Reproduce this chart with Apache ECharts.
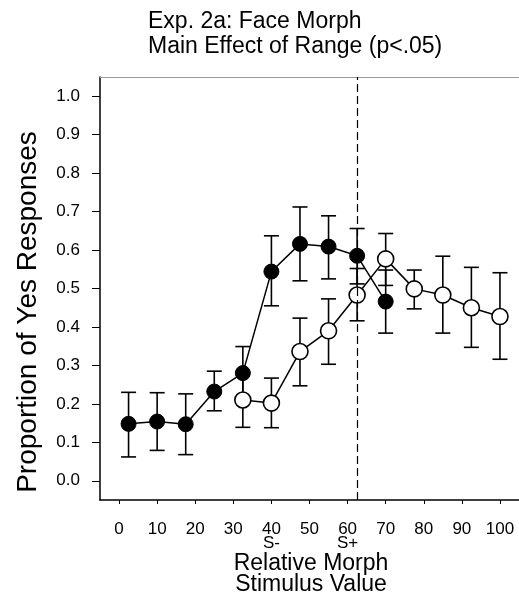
<!DOCTYPE html>
<html>
<head>
<meta charset="utf-8">
<script src="https://cdn.jsdelivr.net/npm/echarts@6/dist/echarts.min.js"></script>
<style>html,body{margin:0;padding:0;background:#fff;}#c{width:519px;height:615px;}</style>
</head>
<body>
<div id="c"></div>
<script>
// ---- data ----
var titleLines = ['Exp. 2a: Face Morph', 'Main Effect of Range (p<.05)'];
var yTitle = 'Proportion of Yes Responses';
var xTitleLines = ['Relative Morph', 'Stimulus Value'];
var xTicks = [0, 10, 20, 30, 40, 50, 60, 70, 80, 90, 100];
var xTickExtra = {40: 'S-', 60: 'S+'};
var yTicks = [0, 0.1, 0.2, 0.3, 0.4, 0.5, 0.6, 0.7, 0.8, 0.9, 1.0];
var dividerX = 62.5;

var blackX    = [2.5, 10, 17.5, 25, 32.5, 40, 47.5, 55, 62.5, 70];
var blackMean = [0.148, 0.154, 0.147, 0.232, 0.280, 0.544, 0.616, 0.609, 0.585, 0.466];
var blackLow  = [0.062, 0.079, 0.068, 0.182, 0.210, 0.455, 0.520, 0.525, 0.512, 0.384];
var blackHigh = [0.230, 0.229, 0.226, 0.285, 0.349, 0.637, 0.712, 0.689, 0.656, 0.548];

var whiteX    = [32.5, 40, 47.5, 55, 62.5, 70, 77.5, 85, 92.5, 100];
var whiteMean = [0.210, 0.202, 0.336, 0.390, 0.483, 0.577, 0.499, 0.483, 0.450, 0.427];
var whiteLow  = [0.139, 0.138, 0.247, 0.303, 0.416, 0.508, 0.447, 0.384, 0.347, 0.316];
var whiteHigh = [0.282, 0.267, 0.423, 0.473, 0.552, 0.643, 0.548, 0.584, 0.555, 0.541];

function pts(xs, ys) { return xs.map(function (x, i) { return [x, ys[i]]; }); }
function bars(xs, lo, hi) { return xs.map(function (x, i) { return [x, lo[i], hi[i]]; }); }

function errRender(params, api) {
  var x = api.value(0);
  var lo = api.coord([x, api.value(1)]);
  var hi = api.coord([x, api.value(2)]);
  var hw = 7.5;
  var st = {stroke: '#000', lineWidth: 1.6, fill: null};
  return {
    type: 'group',
    children: [
      {type: 'line', shape: {x1: lo[0], y1: lo[1], x2: hi[0], y2: hi[1]}, style: st},
      {type: 'line', shape: {x1: hi[0] - hw, y1: hi[1], x2: hi[0] + hw, y2: hi[1]}, style: st},
      {type: 'line', shape: {x1: lo[0] - hw, y1: lo[1], x2: lo[0] + hw, y2: lo[1]}, style: st}
    ]
  };
}

var FONT = 'Liberation Sans, Arial, sans-serif';
var chart = echarts.init(document.getElementById('c'), null, {renderer: 'canvas'});
chart.setOption({
  backgroundColor: '#fff',
  animation: false,
  title: {
    text: titleLines.join('\n'),
    left: 143, top: 4,
    textStyle: {fontFamily: FONT, fontSize: 23, fontWeight: 'normal', color: '#000', lineHeight: 25}
  },
  grid: {left: 100, top: 77, width: 421, height: 423, show: false, containLabel: false},
  xAxis: [{
    type: 'value', min: -5, max: 105,
    splitLine: {show: false},
    axisLine: {show: true, onZero: false, lineStyle: {color: '#000', width: 1.5}},
    axisTick: {show: true, inside: false, length: 4, customValues: xTicks, lineStyle: {color: '#000', width: 1}},
    axisLabel: {
      show: true, margin: 22, customValues: xTicks,
      fontFamily: FONT, fontSize: 17, color: '#000', lineHeight: 14,
      formatter: function (v) { return xTickExtra[v] ? v + '\n' + xTickExtra[v] : String(v); }
    }
  }, {
    type: 'value', position: 'top', min: -5, max: 105,
    splitLine: {show: false},
    axisLine: {show: true, onZero: false, lineStyle: {color: '#999', width: 1}},
    axisTick: {show: false}, axisLabel: {show: false}
  }],
  yAxis: {
    type: 'value', min: -0.05, max: 1.05,
    splitLine: {show: false},
    axisLine: {show: true, onZero: false, lineStyle: {color: '#000', width: 1.5}},
    axisTick: {show: true, inside: false, length: 8, customValues: yTicks, lineStyle: {color: '#000', width: 1}},
    axisLabel: {
      show: true, margin: 20, customValues: yTicks,
      fontFamily: FONT, fontSize: 17, color: '#000',
      formatter: function (v) { return (Math.round(v * 10) / 10).toFixed(1); }
    }
  },
  graphic: [
    {type: 'text', x: 28, y: 312, rotation: Math.PI / 2,
     style: {text: yTitle, font: '28px ' + FONT, fill: '#000', textAlign: 'center', textVerticalAlign: 'middle'}},
    {type: 'text', x: 311, y: 564,
     style: {text: xTitleLines[0], font: '23px ' + FONT, fill: '#000', textAlign: 'center', textVerticalAlign: 'middle'}},
    {type: 'text', x: 311, y: 585,
     style: {text: xTitleLines[1], font: '23px ' + FONT, fill: '#000', textAlign: 'center', textVerticalAlign: 'middle'}}
  ],
  series: [
    {type: 'custom', name: 'blackErr', renderItem: errRender, data: bars(blackX, blackLow, blackHigh), z: 1, silent: true},
    {type: 'custom', name: 'whiteErr', renderItem: errRender, data: bars(whiteX, whiteLow, whiteHigh), z: 1, silent: true},
    {
      type: 'line', name: 'black', data: pts(blackX, blackMean), z: 3,
      symbol: 'circle', symbolSize: 15,
      lineStyle: {color: '#000', width: 1.5},
      itemStyle: {color: '#000', borderColor: '#000', borderWidth: 1},
      markLine: {
        silent: true, symbol: 'none', label: {show: false},
        lineStyle: {color: '#000', type: [8, 4], width: 1.2},
        data: [{xAxis: dividerX}]
      }
    },
    {
      type: 'line', name: 'white', data: pts(whiteX, whiteMean), z: 4,
      symbol: 'circle', symbolSize: 16,
      lineStyle: {color: '#000', width: 1.5},
      itemStyle: {color: '#fff', borderColor: '#000', borderWidth: 1.6}
    }
  ]
});
</script>
</body>
</html>
